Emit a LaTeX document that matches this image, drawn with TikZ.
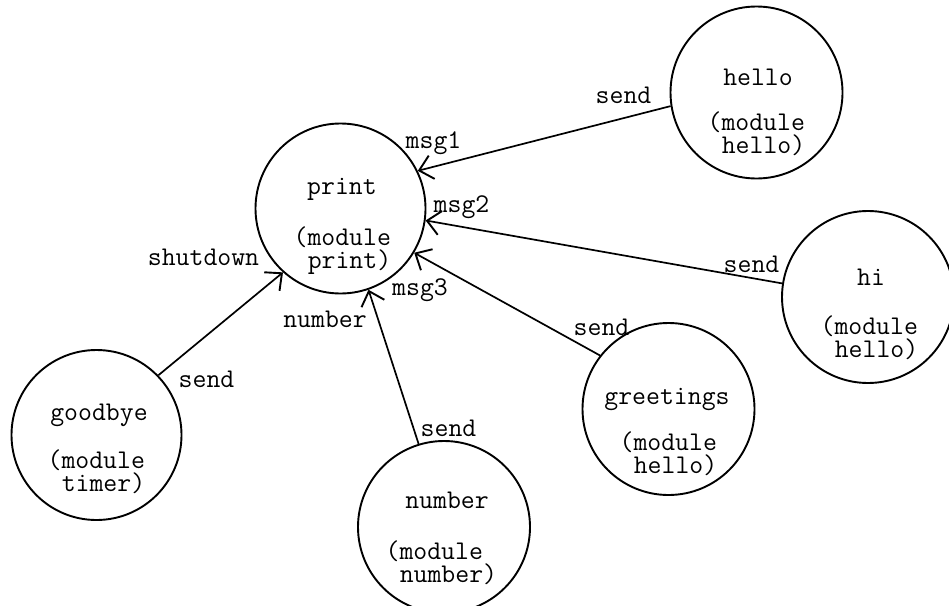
\documentclass[tikz,border=0pt]{standalone}
\usepackage{fontspec}
\usetikzlibrary{arrows.meta}
\tikzset{
  mod/.style={circle, draw, line width=1.9pt, inner sep=0pt, minimum size=170pt},
  txt/.style={font=\ttfamily\fontsize{27}{23.5}\selectfont, inner sep=0pt, anchor=base},
  two/.style={txt, align=left, anchor=base west},
  conn/.style={line width=1.7pt, -{Straight Barb[length=13pt,width=24pt,line width=1.9pt]}},
}
\newcommand{\ind}{\hspace*{0.525em}}
\begin{document}
\begin{tikzpicture}[x=1pt,y=-1pt]
\useasboundingbox (0,0) rectangle (949,605);
% modules
\node[mod] (print) at (340.5,208.5) {};
\node[mod, minimum size=172pt] (hello) at (756.5,92.5) {};
\node[mod, minimum size=172pt] (hi) at (868,297) {};
\node[mod, minimum size=172pt] (greetings) at (668.5,409) {};
\node[mod, minimum size=172pt] (number) at (444,527) {};
\node[mod] (goodbye) at (96.5,435) {};
% texts in modules
\node[txt] (t-print1) at (342,194) {print};
\node[two] (t-print2) at (293.4,268.5) {(module\\\ind print)};
\node[txt] (t-hello1) at (758,85) {hello};
\node[two] (t-hello2) at (707.4,153.5) {(module\\\ind hello)};
\node[txt] (t-hi1) at (871,285) {hi};
\node[two] (t-hi2) at (820.4,357.5) {(module\\\ind hello)};
\node[txt] (t-gr1) at (667,404) {greetings};
\node[two] (t-gr2) at (619.4,473.5) {(module\\\ind hello)};
\node[txt] (t-nu1) at (447,508) {number};
\node[two] (t-nu2) at (385.4,582.5) {(module\\\ind number)};
\node[txt] (t-gb1) at (99,420) {goodbye};
\node[two] (t-gb2) at (47.4,491.5) {(module\\\ind timer)};
% edge labels
\node[txt] (l-hello) at (623.5,103) {send};
\node[txt] (l-msg1) at (433.5,148) {msg1};
\node[txt] (l-hi) at (751.5,272) {send};
\node[txt] (l-msg2) at (461.5,212) {msg2};
\node[txt] (l-gr) at (601.5,335) {send};
\node[txt] (l-msg3) at (420,295) {msg3};
\node[txt] (l-nu) at (448.5,436) {send};
\node[txt] (l-number) at (325,327) {number};
\node[txt] (l-gb) at (206.5,387) {send};
\node[txt] (l-shut) at (203.5,265) {shutdown};
% connectors
\draw[conn] (hello.189) -- (print.26);
\draw[conn] (hi.171) -- (print.-8);
\draw[conn] (greetings.142) -- (print.-31);
\draw[conn] (number.107) -- (print.-71);
\draw[conn] (goodbye.44) -- (print.228);
\end{tikzpicture}
\end{document}
